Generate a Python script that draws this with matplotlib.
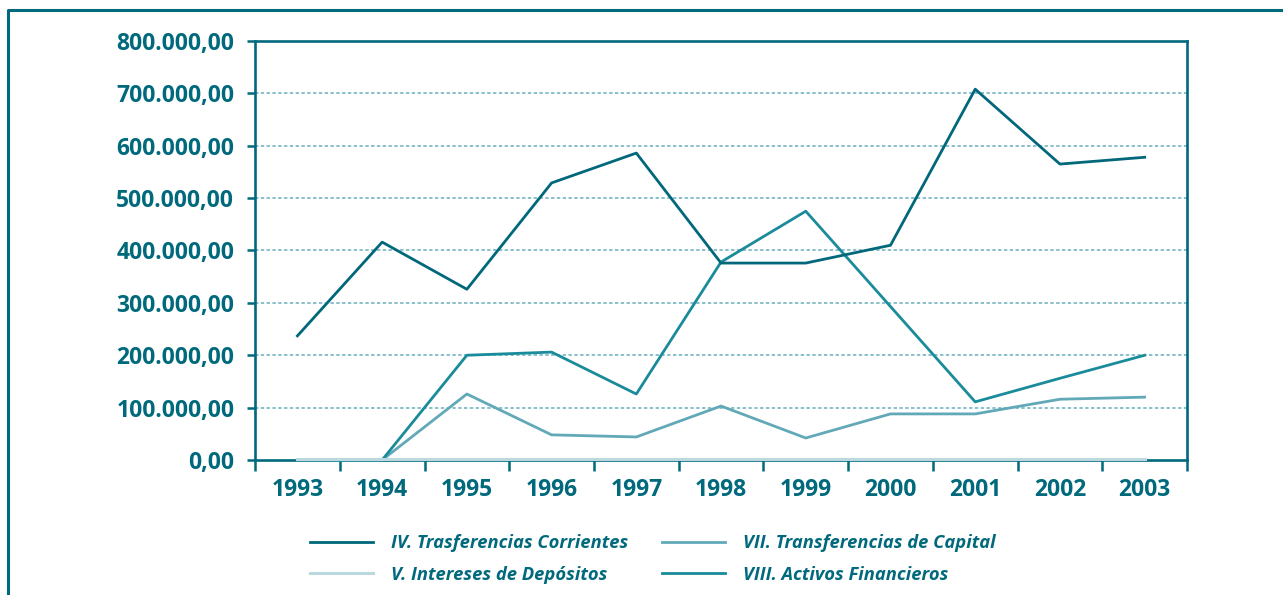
import matplotlib.pyplot as plt
import matplotlib.ticker as ticker
from matplotlib.lines import Line2D

# Years
years = ['1993', '1994', '1995', '1996', '1997', '1998',
         '1999', '2000', '2001', '2002', '2003']

# Series values
trans_corrientes = [237000, 416000, 326000, 529000, 586000, 376000,
                    376000, 410000, 708000, 565000, 578000]
intereses = [1000, 1000, 1000, 1000, 1000, 1000,
             1000, 1000, 1000, 1000, 1000]
trans_capital = [0, 0, 126000, 48000, 44000, 103000,
                 42000, 88000, 88000, 116000, 120000]
activos = [0, 0, 200000, 206000, 126000, 378000,
           475000, 293000, 111000, 156000, 200000]

y_ticks = [0, 100000, 200000, 300000, 400000, 500000, 600000, 700000, 800000]

teal = '#00697c'
plt.rcParams['font.family'] = ['Open Sans', 'DejaVu Sans']

fig = plt.figure(figsize=(12.83, 5.95), dpi=100)
ax = fig.add_axes([0.1988, 0.2269, 0.7264, 0.7042])

x = range(len(years))
l1, = ax.plot(x, trans_corrientes, color='#00687a', linewidth=2.0,
              label='IV. Trasferencias Corrientes', clip_on=False, zorder=5)
l2, = ax.plot(x, intereses, color='#bbd8df', linewidth=2.2,
              label='V. Intereses de Depósitos', clip_on=False, zorder=6)
l3, = ax.plot(x, trans_capital, color='#62a9b8', linewidth=2.0,
              label='VII. Transferencias de Capital', clip_on=False, zorder=4)
l4, = ax.plot(x, activos, color='#1a8b9b', linewidth=2.0,
              label='VIII. Activos Financieros', clip_on=False, zorder=4)

ax.set_xlim(-0.5, len(years) - 0.5)
ax.set_ylim(0, 800000)

# Category ticks between years, labels centred
ax.set_xticks([i - 0.5 for i in range(len(years) + 1)])
ax.set_xticklabels([])
ax.set_xticks(list(x), minor=True)
ax.set_xticklabels(years, minor=True)
ax.tick_params(axis='x', which='major', length=8, width=1.8, color=teal, direction='out')
ax.tick_params(axis='x', which='minor', length=0, pad=13, labelsize=16.5, labelcolor=teal)

ax.set_yticks(y_ticks)
ax.yaxis.set_major_formatter(ticker.FuncFormatter(
    lambda v, p: f"{int(v):,}".replace(',', '.') + ',00'))
ax.tick_params(axis='y', length=6, width=1.8, color=teal, pad=9,
               labelsize=16.5, labelcolor=teal)
for lab in ax.get_xticklabels(minor=True) + ax.get_yticklabels():
    lab.set_fontweight('bold')

# Dashed grid
for v in y_ticks[1:-1]:
    ax.axhline(v, color='#6aafbc', linewidth=1.1, linestyle=(0, (2.2, 1.6)), zorder=1)

for s in ax.spines.values():
    s.set_color(teal)
    s.set_linewidth(1.9)

# Legend
fig.legend(handles=[l1, l2, l3, l4], ncol=2, loc='upper left',
           bbox_to_anchor=(310 / 1283, 1 - 534 / 595), frameon=False,
           borderpad=0, borderaxespad=0,
           handlelength=3.4, handletextpad=1.0, columnspacing=1.85,
           labelspacing=0.75,
           prop={'style': 'italic', 'size': 13.25, 'weight': 'bold'},
           labelcolor=teal)

# Outer frame
fig.add_artist(Line2D([8 / 1283, 8 / 1283, 1.0], [0.0, 1 - 10 / 595, 1 - 10 / 595],
                      transform=fig.transFigure, color=teal, linewidth=2.2))

fig.savefig('out.png', dpi=100)
